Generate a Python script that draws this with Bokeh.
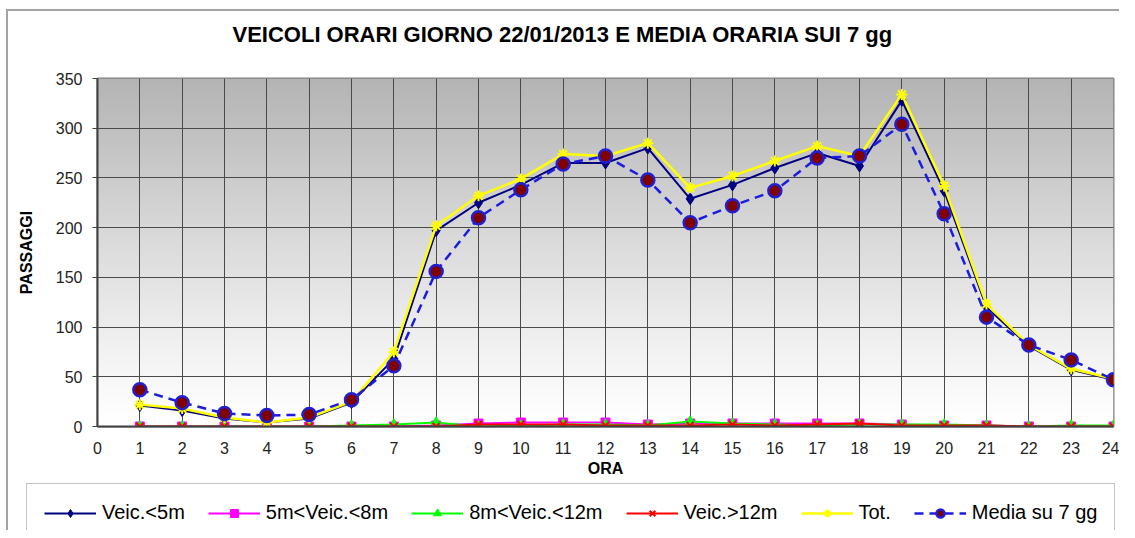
import numpy as np
from bokeh.plotting import figure
from bokeh.models import Legend, LegendItem, FixedTicker, Range1d
from bokeh.embed import file_html
from bokeh.resources import INLINE

# ---- data ----
ore = list(range(1, 25))
veic_lt5 = [21, 16, 8, 4, 8, 24, 68, 197, 225, 243, 265, 265, 280, 229, 243, 260, 275, 262, 328, 237, 120, 81, 57, 47]
veic_5_8 = [0, 0, 0, 0, 0, 0, 0, 1, 3, 4, 4, 4, 2, 3, 3, 3, 3, 3, 2, 1, 1, 0, 0, 0]
veic_8_12 = [0, 0, 0, 0, 0, 1, 2, 4, 0, 1, 2, 2, 1, 5, 3, 2, 1, 2, 2, 2, 1, 0, 1, 1]
veic_gt12 = [0, 0, 0, 0, 0, 0, 0, 0, 2, 2, 2, 1, 1, 1, 2, 1, 2, 3, 1, 1, 1, 0, 0, 0]
tot = [22, 18, 9, 4, 9, 25, 75, 202, 232, 249, 274, 272, 285, 240, 252, 267, 282, 272, 334, 242, 123, 82, 58, 48]
media = [37, 24, 13, 11, 12, 27, 61, 156, 210, 238, 264, 272, 248, 205, 222, 237, 270, 272, 304, 214, 110, 82, 67, 47]

title_text = "VEICOLI ORARI GIORNO 22/01/2013 E MEDIA ORARIA SUI 7 gg"
labels = ["Veic.<5m", "5m<Veic.<8m", "8m<Veic.<12m", "Veic.>12m", "Tot.", "Media su 7 gg"]
x_ticks = list(range(0, 25))
y_ticks = list(range(0, 351, 50))

FONT = "Liberation Sans"
FRAME_GRAY = "#a3a3a3"

# series styles: (line kwargs, marker kwargs)
styles = [
    (dict(line_color="#000080", line_width=2),
     dict(marker="diamond", size=12, fill_color="#000080", line_color="#000080")),
    (dict(line_color="#ff00ff", line_width=2),
     dict(marker="square", size=9, fill_color="#ff00ff", line_color="#ff00ff")),
    (dict(line_color="#00ff00", line_width=2),
     dict(marker="triangle", size=10, fill_color="#00ff00", line_color="#00ff00")),
    (dict(line_color="#ff0000", line_width=2),
     dict(marker="x", size=10, line_color="#ff0000", line_width=2)),
    (dict(line_color="#ffff00", line_width=2.5),
     dict(marker="asterisk", size=11, line_color="#ffff00", line_width=2)),
    (dict(line_color="#1c1ce0", line_width=2.5, line_dash="9 6"),
     dict(marker="circle", size=13, fill_color="#800000", line_color="#2020d0", line_width=2.5)),
]
series = [veic_lt5, veic_5_8, veic_8_12, veic_gt12, tot, media]

# outer chart-area border drawn as CSS background lines behind transparent canvases
left_line = {
    "background-image": f"linear-gradient({FRAME_GRAY}, {FRAME_GRAY})",
    "background-size": "2px 100%",
    "background-position": "6px 0px",
    "background-repeat": "no-repeat",
}
top_left_lines = {
    "background-image": f"linear-gradient({FRAME_GRAY}, {FRAME_GRAY}), linear-gradient({FRAME_GRAY}, {FRAME_GRAY})",
    "background-size": "2px 100%, 100% 2px",
    "background-position": "6px 9px, 6px 9px",
    "background-repeat": "no-repeat, no-repeat",
}


def blank(height, **kw):
    f = figure(width=1119, height=height, x_range=Range1d(0, 1), y_range=Range1d(0, 1),
               output_backend="svg", toolbar_location=None,
               x_axis_type=None, y_axis_type=None, **kw)
    f.outline_line_color = None
    f.xgrid.visible = False
    f.ygrid.visible = False
    f.background_fill_alpha = 0
    f.border_fill_alpha = 0
    return f


# ---- title strip ----
t = blank(52, min_border_left=97, min_border_right=6, min_border_top=50, min_border_bottom=0,
          title=title_text)
t.title.align = "left"
t.title.offset = 135
t.title.text_font = FONT
t.title.text_font_size = "22px"
t.title.text_font_style = "bold"
t.title.text_color = "#000000"
t.title.standoff = 8
t.styles = top_left_lines

# ---- main chart ----
p = figure(width=1119, height=430, x_range=Range1d(0, 24), y_range=Range1d(0, 350),
           output_backend="svg", toolbar_location=None,
           min_border_left=97, min_border_right=6, min_border_top=26, min_border_bottom=56)

# background gradient inside plot area
n = 200
tt = np.linspace(0, 1, n)
g = (255 - (255 - 180) * tt ** 1.15).astype(np.uint32)
img = np.empty((n, 1), dtype=np.uint32)
view = img.view(dtype=np.uint8).reshape((n, 1, 4))
view[:, 0, 0] = g
view[:, 0, 1] = g
view[:, 0, 2] = g
view[:, 0, 3] = 255
p.image_rgba(image=[img], x=0, y=0, dw=24, dh=350, level="image")

p.background_fill_color = "#ffffff"
p.border_fill_alpha = 0
p.outline_line_color = "#808080"
p.outline_line_width = 2
p.styles = left_line

p.xgrid.ticker = FixedTicker(ticks=x_ticks)
p.ygrid.ticker = FixedTicker(ticks=y_ticks)
for gr in (p.xgrid, p.ygrid):
    gr.grid_line_color = "#4a4a4a"
    gr.grid_line_width = 1
    gr.level = "underlay"

p.xaxis.ticker = FixedTicker(ticks=x_ticks)
p.yaxis.ticker = FixedTicker(ticks=y_ticks)
p.xaxis.axis_label = "ORA"
p.yaxis.axis_label = "PASSAGGI"
for ax in (p.xaxis, p.yaxis):
    ax.axis_label_text_font = FONT
    ax.axis_label_text_font_size = "16px"
    ax.axis_label_text_font_style = "bold"
    ax.axis_label_text_color = "#000000"
    ax.major_label_text_font = FONT
    ax.major_label_text_font_size = "16px"
    ax.major_label_text_color = "#222222"
    ax.axis_line_color = "#404040"
    ax.axis_line_width = 2
    ax.minor_tick_line_color = None
    ax.major_tick_line_color = "#404040"
p.xaxis.major_tick_out = 0
p.xaxis.major_tick_in = 0
p.xaxis.major_label_standoff = 15
p.xaxis.axis_label_standoff = 3
p.yaxis.major_tick_out = 5
p.yaxis.major_tick_in = 0
p.yaxis.major_label_standoff = 10
p.yaxis.axis_label_standoff = 18

for ys, (lk, mk) in zip(series, styles):
    p.line(ore, ys, **lk)
    p.scatter(ore, ys, **mk)

# ---- legend strip ----
q = blank(48, min_border_left=0, min_border_right=0, min_border_top=0, min_border_bottom=0)
q.styles = left_line
items = []
for lab, (lk, mk) in zip(labels, styles):
    rl = q.line([-5, -4], [-5, -4], **lk)
    rm = q.scatter([-5], [-5], **mk)
    items.append(LegendItem(label=lab, renderers=[rl, rm]))

legend = Legend(items=items, orientation="horizontal", location=(26, -12))
legend.label_text_font = FONT
legend.label_text_font_size = "20px"
legend.label_text_color = "#000000"
legend.glyph_width = 52
legend.glyph_height = 20
legend.label_standoff = 6
legend.spacing = 23
legend.padding = 17
legend.margin = 0
legend.border_line_color = "#8a8a8a"
legend.border_line_width = 1
legend.background_fill_color = "#ffffff"
legend.background_fill_alpha = 1
q.add_layout(legend, "center")

open("out.html", "w").write(file_html([t, p, q], INLINE))
